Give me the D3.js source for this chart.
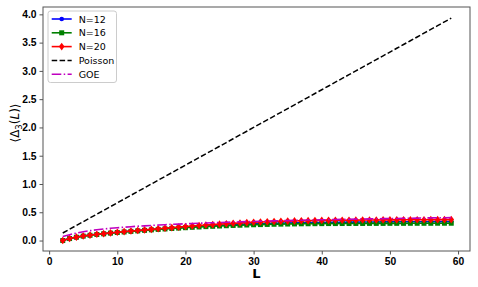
<!DOCTYPE html>
<html>
<head>
<meta charset="utf-8">
<script src="https://cdn.jsdelivr.net/npm/d3@7"></script>
<style>
  body { margin: 0; background: #fff; }
  svg { display: block; font-family: 'DejaVu Sans', sans-serif; }
  .eje text { font-size: 10.3px; font-weight: bold; fill: #000; }
  .eje line { stroke: #555; }
  .eje path { display: none; }
</style>
</head>
<body>
<div id="graf"></div>
<script>
// Datos
Ls = d3.range(2, 60)

n12 = [0.000,0.035,0.060,0.080,0.095,0.110,0.122,0.134,0.145,0.156,0.166,0.176,0.185,0.194,0.203,0.212,0.220,0.228,0.236,0.243,
       0.250,0.257,0.263,0.269,0.275,0.280,0.285,0.290,0.294,0.298,0.302,0.305,0.308,0.311,0.313,0.315,0.317,0.319,0.320,0.322,
       0.323,0.324,0.325,0.326,0.327,0.328,0.329,0.330,0.330,0.331,0.332,0.332,0.333,0.333,0.334,0.334,0.335,0.335]

n16 = [0.000,0.035,0.058,0.078,0.093,0.107,0.119,0.131,0.142,0.152,0.162,0.171,0.180,0.189,0.197,0.205,0.213,0.220,0.227,0.234,
       0.240,0.246,0.252,0.257,0.262,0.267,0.271,0.275,0.279,0.282,0.285,0.288,0.290,0.292,0.294,0.296,0.297,0.298,0.299,0.300,
       0.300,0.301,0.301,0.302,0.302,0.303,0.303,0.303,0.304,0.304,0.304,0.305,0.305,0.305,0.305,0.306,0.306,0.306]

n20 = [0.000,0.035,0.060,0.080,0.095,0.110,0.122,0.135,0.147,0.158,0.168,0.178,0.188,0.198,0.208,0.218,0.228,0.238,0.248,0.257,
       0.266,0.274,0.282,0.290,0.297,0.304,0.311,0.317,0.323,0.328,0.333,0.337,0.341,0.344,0.347,0.350,0.352,0.354,0.356,0.357,
       0.358,0.359,0.360,0.361,0.362,0.363,0.364,0.365,0.366,0.366,0.367,0.367,0.368,0.368,0.369,0.369,0.370,0.370]

poisson = [0.133,0.200,0.267,0.333,0.400,0.467,0.533,0.600,0.667,0.733,0.800,0.867,0.933,1.000,1.067,1.133,1.200,1.267,1.333,1.400,
           1.467,1.533,1.600,1.667,1.733,1.800,1.867,1.933,2.000,2.067,2.133,2.200,2.267,2.333,2.400,2.467,2.533,2.600,2.667,2.733,
           2.800,2.867,2.933,3.000,3.067,3.133,3.200,3.267,3.333,3.400,3.467,3.533,3.600,3.667,3.733,3.800,3.867,3.933]

goe = [0.070,0.104,0.133,0.156,0.175,0.190,0.204,0.216,0.226,0.236,0.245,0.253,0.260,0.267,0.274,0.280,0.286,0.291,0.297,0.302,
       0.306,0.311,0.315,0.319,0.323,0.327,0.331,0.334,0.338,0.341,0.344,0.347,0.350,0.353,0.356,0.359,0.362,0.364,0.367,0.369,
       0.372,0.374,0.376,0.379,0.381,0.383,0.385,0.387,0.389,0.391,0.393,0.395,0.397,0.399,0.401,0.403,0.404,0.406]

xTicks = [0, 10, 20, 30, 40, 50, 60]
yTicks = [0.0, 0.5, 1.0, 1.5, 2.0, 2.5, 3.0, 3.5, 4.0]

series = [
  { nombre: 'N=12', valores: n12, color: '#0000ff', marca: 'circulo', dash: null, ancho: 1.6 },
  { nombre: 'N=16', valores: n16, color: '#008000', marca: 'cuadro', dash: null, ancho: 1.6 },
  { nombre: 'N=20', valores: n20, color: '#ff0000', marca: 'diamante', dash: null, ancho: 1.6 },
  { nombre: 'Poisson', valores: poisson, color: '#000000', marca: null, dash: '5.5,2.4', ancho: 1.5 },
  { nombre: 'GOE', valores: goe, color: '#bf00bf', marca: null, dash: '9.6,2.4,1.5,2.4', ancho: 1.6 }
]

// I. Configuracion
ancho_total = 478
alto_total = 287
margins = { top: 7, left: 43, right: 8, bottom: 36 }

ancho = ancho_total - margins.left - margins.right
alto = alto_total - margins.top - margins.bottom

svg = d3.select('#graf').append('svg')
        .attr('width', ancho_total)
        .attr('height', alto_total)

g = svg.append('g')
       .attr('transform', `translate(${ margins.left }, ${ margins.top })`)

x = d3.scaleLinear().domain([-0.9, 61.75]).range([0, ancho])
y = d3.scaleLinear().domain([-0.185, 4.13]).range([alto, 0])

// ejes
xAxisGroup = g.append('g')
              .attr('class', 'eje')
              .attr('transform', `translate(0, ${ alto })`)
              .call(d3.axisBottom(x).tickValues(xTicks).tickSize(3.5).tickPadding(3).tickFormat(d3.format('d')))
yAxisGroup = g.append('g')
              .attr('class', 'eje')
              .call(d3.axisLeft(y).tickValues(yTicks).tickSize(3.5).tickPadding(3).tickFormat(d3.format('.1f')))

// marcadores
function marca(sel, tipo, color) {
  if (tipo == 'circulo') {
    sel.append('circle').attr('r', 2.3).attr('fill', color)
  } else if (tipo == 'cuadro') {
    sel.append('rect').attr('x', -2.5).attr('y', -2.5).attr('width', 5).attr('height', 5).attr('fill', color)
  } else if (tipo == 'diamante') {
    sel.append('path').attr('d', 'M0,-3.8L2.8,0L0,3.8L-2.8,0Z').attr('fill', color)
  }
}

linea = d3.line()
          .x((d, i) => x(Ls[i]))
          .y(d => y(d))

series.forEach(s => {
  sg = g.append('g')
  sg.append('path')
    .datum(s.valores)
    .attr('d', linea)
    .attr('fill', 'none')
    .attr('stroke', s.color)
    .attr('stroke-width', s.ancho)
    .attr('stroke-dasharray', s.dash)
  if (s.marca) {
    sg.selectAll('g.m')
      .data(s.valores)
      .enter()
      .append('g')
        .attr('class', 'm')
        .attr('transform', (d, i) => `translate(${ x(Ls[i]) }, ${ y(d) })`)
        .each(function() { marca(d3.select(this), s.marca, s.color) })
  }
})

// marco
g.append('rect')
  .attr('width', ancho)
  .attr('height', alto)
  .attr('fill', 'none')
  .attr('stroke', '#555')
  .attr('stroke-width', 1)

// titulos de ejes
g.append('text')
  .attr('x', ancho / 2)
  .attr('y', alto + 27)
  .attr('text-anchor', 'middle')
  .style('font-size', '13px')
  .style('font-weight', 'bold')
  .text('L')

ylab = svg.append('text')
          .attr('transform', `translate(19, ${ margins.top + alto / 2 - 6 }) rotate(-90)`)
          .attr('text-anchor', 'middle')
          .style('font-size', '12px')
ylab.append('tspan').text('\u27E8\u0394')
ylab.append('tspan').attr('dy', 2.8).style('font-size', '8.5px').text('3')
ylab.append('tspan').attr('dy', -2.8).text('(')
ylab.append('tspan').style('font-style', 'italic').text('L')
ylab.append('tspan').text(')\u27E9')

// leyenda
leyenda = g.append('g').attr('transform', 'translate(5, 4)')
leyenda.append('rect')
  .attr('width', 68.5)
  .attr('height', 71.5)
  .attr('rx', 2.5)
  .attr('fill', '#fff')
  .attr('fill-opacity', 0.8)
  .attr('stroke', '#ccc')
  .attr('stroke-width', 1)

series.forEach((s, i) => {
  fila = leyenda.append('g').attr('transform', `translate(0, ${ 8 + i * 13.8 })`)
  fila.append('line')
    .attr('x1', 3.7).attr('x2', 23.7)
    .attr('stroke', s.color)
    .attr('stroke-width', s.ancho)
    .attr('stroke-dasharray', s.dash)
  if (s.marca) {
    marca(fila.append('g').attr('transform', 'translate(13.7, 0)'), s.marca, s.color)
  }
  fila.append('text')
    .attr('x', 30.7)
    .attr('y', 3.5)
    .style('font-size', '9.5px')
    .text(s.nombre)
})
</script>
</body>
</html>
